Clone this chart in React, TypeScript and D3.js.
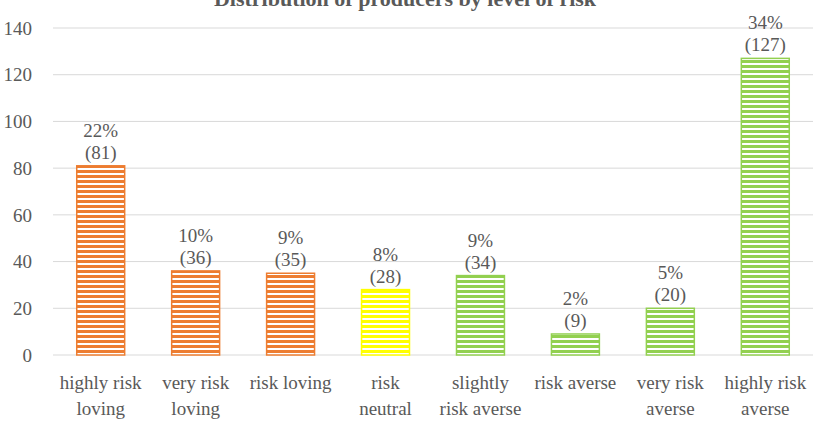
import React from 'react'
import * as d3 from 'd3'

const categories = [
  ['highly risk', 'loving'],
  ['very risk', 'loving'],
  ['risk loving'],
  ['risk', 'neutral'],
  ['slightly', 'risk averse'],
  ['risk averse'],
  ['very risk', 'averse'],
  ['highly risk', 'averse'],
]
const counts = [81, 36, 35, 28, 34, 9, 20, 127]
const percents = ['22%', '10%', '9%', '8%', '9%', '2%', '5%', '34%']
const groups = ['loving', 'loving', 'loving', 'neutral', 'averse', 'averse', 'averse', 'averse']
const yTicks = [0, 20, 40, 60, 80, 100, 120, 140]

const groupColor: Record<string, string> = {
  loving: '#ED7D31',
  neutral: '#FFFF00',
  averse: '#92D050',
}

const W = 823
const H = 442
const margin = { top: 28, right: 10, bottom: 87, left: 53 }
const font = '"Liberation Serif", "DejaVu Serif", serif'
const textColor = '#595959'
const fs = 19

export default function App() {
  const x = d3
    .scaleBand<number>()
    .domain(d3.range(categories.length))
    .range([margin.left, W - margin.right])
    .paddingInner(0.495)
    .paddingOuter(0.25)
  const y = d3.scaleLinear().domain([0, 140]).range([H - margin.bottom, margin.top])

  return (
    <svg width={W} height={H} style={{ position: 'absolute', left: 0, top: 0, background: '#fff' }}>
      <defs>
        {Object.entries(groupColor).map(([k, c]) => (
          <pattern key={k} id={`stripe-${k}`} patternUnits="userSpaceOnUse" width={6} height={5}>
            <rect width={6} height={5} fill="#fff" />
            <rect y={0} width={6} height={3} fill={c} />
          </pattern>
        ))}
      </defs>

      {/* title sits partly above the top edge, as in the source picture */}
      <text
        x={405}
        y={6}
        textAnchor="middle"
        fontFamily={font}
        fontSize={22}
        fontWeight="bold"
        fill={textColor}
      >
        Distribution of producers by level of risk
      </text>

      {yTicks.map((t) => (
        <g key={t}>
          <line x1={margin.left} x2={W - margin.right} y1={y(t)} y2={y(t)} stroke="#D9D9D9" strokeWidth={1} />
          <text x={32} y={y(t)} dy="0.35em" textAnchor="end" fontFamily={font} fontSize={fs} fill={textColor}>
            {t}
          </text>
        </g>
      ))}

      {counts.map((v, i) => {
        const c = groupColor[groups[i]]
        const bx = x(i)!
        const bw = x.bandwidth()
        const cx = bx + bw / 2
        return (
          <g key={i}>
            <rect
              x={bx}
              y={y(v)}
              width={bw}
              height={y(0) - y(v)}
              fill={`url(#stripe-${groups[i]})`}
              stroke={c}
              strokeWidth={1.5}
            />
            <text x={cx} y={y(v) - 29} textAnchor="middle" fontFamily={font} fontSize={fs} fill={textColor}>
              {percents[i]}
            </text>
            <text x={cx} y={y(v) - 7} textAnchor="middle" fontFamily={font} fontSize={fs} fill={textColor}>
              ({v})
            </text>
            {categories[i].map((line, j) => (
              <text
                key={j}
                x={cx}
                y={389 + j * 26}
                textAnchor="middle"
                fontFamily={font}
                fontSize={fs}
                fill={textColor}
              >
                {line}
              </text>
            ))}
          </g>
        )
      })}
    </svg>
  )
}
